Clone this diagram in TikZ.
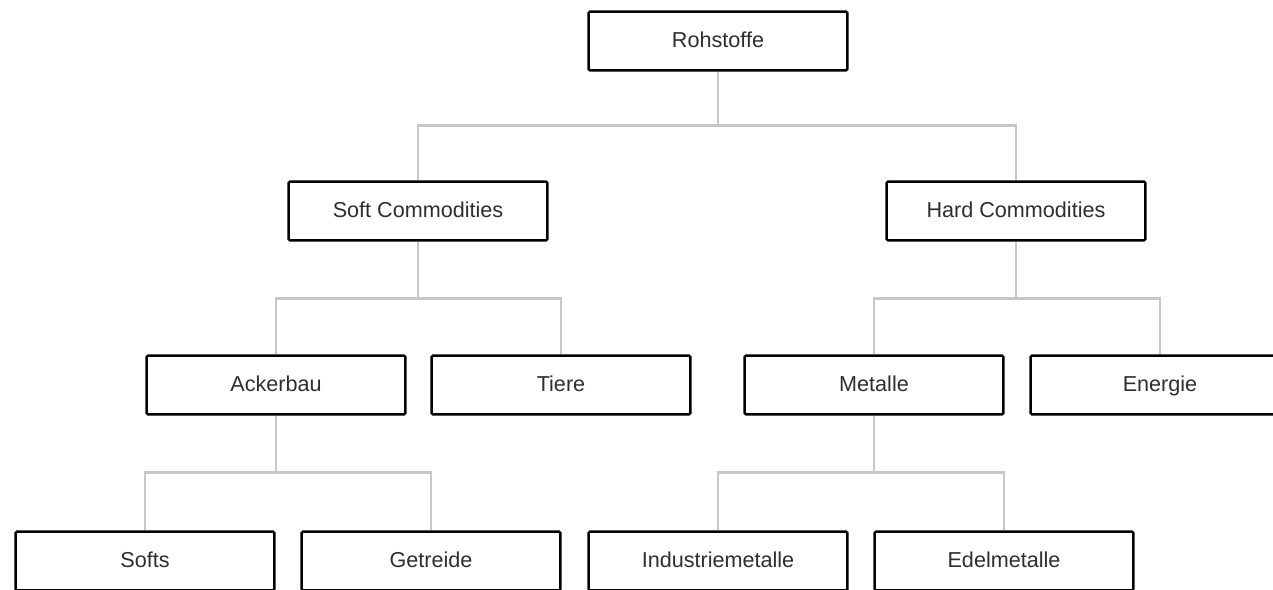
\documentclass[tikz,border=0pt]{standalone}
\usepackage{fontspec}
\setmainfont{Liberation Sans}
\usetikzlibrary{positioning}

\begin{document}
\begin{tikzpicture}[
  x=0.75pt, y=-0.75pt,
  category/.style={draw=black,line width=1.9pt,rounded corners=1pt,fill=white,
    minimum width=194pt,minimum height=44pt,text height=2ex,text depth=.25ex,
    font=\fontsize{16.2}{18}\selectfont,text=black!82},
  link/.style={draw=black!22,line width=2pt},
  every node/.style={align=center}]

  \useasboundingbox (0,0) rectangle (1273,589);

  % Position the nodes at their pixel coordinates
  \node[category] (rohstoffe) at (718,41) {Rohstoffe};

  \node[category] (soft) at (418,211) {Soft Commodities};
  \node[category] (hard) at (1016,211) {Hard Commodities};

  \node[category] (ackerbau) at (276,385) {Ackerbau};
  \node[category] (tiere) at (561,385) {Tiere};
  \node[category] (metalle) at (874,385) {Metalle};
  \node[category] (energie) at (1160,385) {Energie};

  \node[category] (softs) at (145,561) {Softs};
  \node[category] (getreide) at (431,561) {Getreide};
  \node[category] (industrie) at (718,561) {Industriemetalle};
  \node[category] (edel) at (1004,561) {Edelmetalle};

  % Draw the connectors from each parent to its children
  \draw[link] (rohstoffe.south) -- ++(0,54) -| (soft.north);
  \draw[link] (rohstoffe.south) -- ++(0,54) -| (hard.north);
  \draw[link] (soft.south) -- ++(0,57) -| (ackerbau.north);
  \draw[link] (soft.south) -- ++(0,57) -| (tiere.north);
  \draw[link] (hard.south) -- ++(0,57) -| (metalle.north);
  \draw[link] (hard.south) -- ++(0,57) -| (energie.north);
  \draw[link] (ackerbau.south) -- ++(0,57) -| (softs.north);
  \draw[link] (ackerbau.south) -- ++(0,57) -| (getreide.north);
  \draw[link] (metalle.south) -- ++(0,57) -| (industrie.north);
  \draw[link] (metalle.south) -- ++(0,57) -| (edel.north);
\end{tikzpicture}
\end{document}
